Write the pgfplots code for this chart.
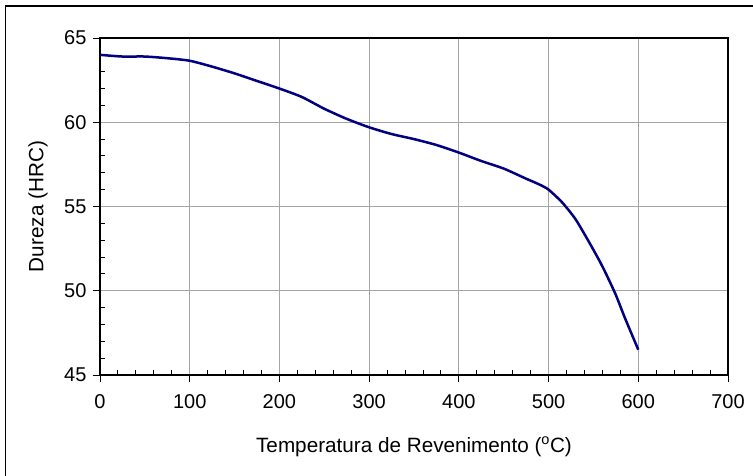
\documentclass[border=0pt]{standalone}
\usepackage{fontspec}
\setmainfont{Liberation Sans}
\usepackage{pgfplots}
\pgfplotsset{compat=1.18}

\definecolor{curve}{RGB}{0,0,128}
\definecolor{gridgray}{RGB}{165,165,165}

\begin{document}
\begin{tikzpicture}
\useasboundingbox (-100pt,-101pt) rectangle (653pt,375pt);
% outer chart frame (right and bottom edges fall outside the picture)
\draw[line width=1.3pt] (-94.5pt,-150pt) -- (-94.5pt,369pt) -- (720pt,369pt);
\begin{axis}[
    at={(0,0)}, anchor=south west,
    scale only axis,
    width=628pt, height=337pt,
    xmin=0, xmax=700,
    ymin=45, ymax=65,
    xtick distance=100,
    ytick distance=5,
    minor x tick num=4,
    minor y tick num=4,
    tick pos=left,
    tick align=outside,
    major tick length=7pt,
    minor tick length=-5pt,
    tick style={black, line width=0.9pt},
    grid=major,
    major grid style={gridgray, line width=0.9pt},
    axis line style={black, line width=1.1pt},
    /pgf/number format/assume math mode=true,
    ticklabel style={font=\fontsize{20}{20}\selectfont},
    xticklabel style={yshift=-9pt},
    yticklabel style={xshift=-3pt},
    xlabel={Temperatura de Revenimento ($^{\mathrm{o}}$C)},
    ylabel={Dureza (HRC)},
    label style={font=\fontsize{20.7}{21}\selectfont},
    xlabel style={at={(axis description cs:0.5,-0.2136)}, anchor=center},
    ylabel style={at={(axis description cs:-0.0987,0.5)}, anchor=center},
]
\addplot[curve, line width=2.5pt, smooth, tension=0.4] coordinates {
    (0,64.0) (25,63.9) (50,63.9) (75,63.8) (100,63.65) (125,63.3)
    (150,62.9) (175,62.45) (200,62.0) (225,61.5) (250,60.8) (275,60.2)
    (300,59.7) (325,59.3) (350,59.0) (375,58.65) (400,58.2) (425,57.7)
    (450,57.25) (475,56.65) (490,56.3) (500,56.0) (515,55.25) (530,54.25)
    (545,52.9) (557,51.75) (565,50.9) (575,49.75) (585,48.4) (600,46.5)
};
\end{axis}
\end{tikzpicture}
\end{document}
